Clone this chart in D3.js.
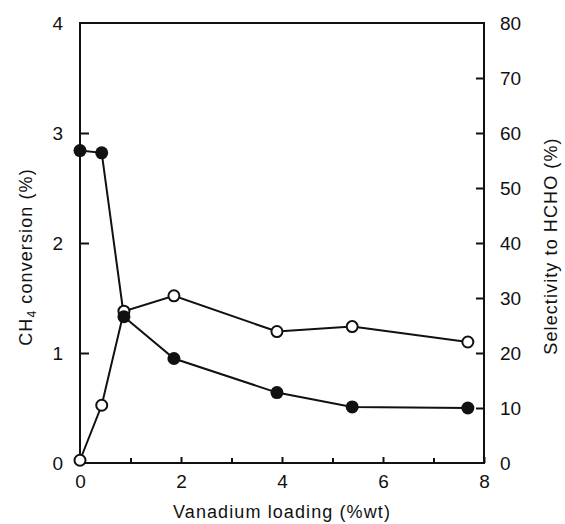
<!DOCTYPE html>
<html>
<head>
<meta charset="utf-8">
<script src="https://cdn.jsdelivr.net/npm/d3@7"></script>
<style>
	body { margin: 0; background: #fff; }
	svg text { font-family: "Liberation Sans", Arial, Helvetica, sans-serif; fill: #111; }
</style>
</head>
<body>
<div id="container"></div>
<script>
// Data
const loading = [0, 0.43, 0.87, 1.86, 3.9, 5.39, 7.68];
const conversion = [2.84, 2.82, 1.33, 0.95, 0.64, 0.51, 0.50];
const selectivity = [0.5, 10.5, 27.6, 30.4, 23.9, 24.8, 22.0];

const xTicks = [0, 2, 4, 6, 8];
const xMinor = [1, 3, 5, 7];
const yLeftTicks = [0, 1, 2, 3, 4];
const yRightTicks = [0, 10, 20, 30, 40, 50, 60, 70, 80];

// Chart dimensions
const width = 565;
const height = 524;
const marginTop = 23;
const marginRight = 81;
const marginBottom = 61;
const marginLeft = 80;

const x = d3.scaleLinear()
	.domain([0, 8])
	.range([marginLeft, width - marginRight]);

const yL = d3.scaleLinear()
	.domain([0, 4])
	.range([height - marginBottom, marginTop]);

const yR = d3.scaleLinear()
	.domain([0, 80])
	.range([height - marginBottom, marginTop]);

const svg = d3.select("#container").append("svg")
	.attr("width", width)
	.attr("height", height)
	.style("display", "block");

const styleAxis = function(g, size) {
	g.select(".domain").remove();
	g.selectAll("line").attr("stroke", "#111").attr("stroke-width", 2);
	g.selectAll("text").style("font-size", size + "px");
}

// Bottom axis, ticks inward
svg.append("g")
	.attr("transform", `translate(0,${yL(0)})`)
	.call(d3.axisBottom(x).tickValues(xTicks).tickSize(-6).tickPadding(12).tickFormat(d3.format("d")))
	.call(g => styleAxis(g, 19));

svg.append("g")
	.attr("transform", `translate(0,${yL(0)})`)
	.call(d3.axisBottom(x).tickValues(xMinor).tickSize(-5).tickFormat(""))
	.call(g => styleAxis(g, 19));

// Left axis
svg.append("g")
	.attr("transform", `translate(${x(0)},0)`)
	.call(d3.axisLeft(yL).tickValues(yLeftTicks).tickSize(-9).tickPadding(17).tickFormat(d3.format("d")))
	.call(g => styleAxis(g, 19))
	.call(g => g.selectAll(".tick").filter(d => d == 0 || d == 4).select("line").remove());

// Right axis
svg.append("g")
	.attr("transform", `translate(${x(8)},0)`)
	.call(d3.axisRight(yR).tickValues(yRightTicks).tickSize(-8).tickPadding(16).tickFormat(d3.format("d")))
	.call(g => styleAxis(g, 19))
	.call(g => g.selectAll(".tick").filter(d => d == 0 || d == 80).select("line").remove());

// Frame (left, top, right, bottom)
svg.append("path")
	.attr("fill", "none")
	.attr("stroke", "#111")
	.attr("stroke-width", 2)
	.attr("d", d3.line()([[x(0), yL(0)], [x(0), yL(4)], [x(8), yL(4)], [x(8), yL(0)], [x(0), yL(0)]]));

// Selectivity line (open circles)
svg.append("path")
	.attr("fill", "none")
	.attr("stroke", "#111")
	.attr("stroke-width", 2)
	.attr("d", d3.line()(loading.map((d, i) => [x(d), yR(selectivity[i])])));

// Conversion line (filled circles)
svg.append("path")
	.attr("fill", "none")
	.attr("stroke", "#111")
	.attr("stroke-width", 2)
	.attr("d", d3.line()(loading.map((d, i) => [x(d), yL(conversion[i])])));

svg.selectAll(".open")
	.data(loading)
	.join("circle")
		.attr("class", "open")
		.attr("cx", d => x(d))
		.attr("cy", (d, i) => yR(selectivity[i]))
		.attr("r", 5.5)
		.attr("fill", "#fff")
		.attr("stroke", "#111")
		.attr("stroke-width", 2);

svg.selectAll(".filled")
	.data(loading)
	.join("circle")
		.attr("class", "filled")
		.attr("cx", d => x(d))
		.attr("cy", (d, i) => yL(conversion[i]))
		.attr("r", 6.5)
		.attr("fill", "#111");

// Axis titles
svg.append("text")
	.attr("x", x(4))
	.attr("y", 518)
	.attr("text-anchor", "middle")
	.style("font-size", "18px")
	.style("letter-spacing", "1.1px")
	.text("Vanadium loading (%wt)");

const leftTitle = svg.append("text")
	.attr("transform", `translate(32,${(yL(0) + yL(4)) / 2 + 14}) rotate(-90)`)
	.attr("text-anchor", "middle")
	.style("font-size", "18px")
	.style("letter-spacing", "1.1px");
leftTitle.append("tspan").text("CH");
leftTitle.append("tspan").attr("dy", 4).style("font-size", "12px").text("4");
leftTitle.append("tspan").attr("dy", -4).text(" conversion (%)");

svg.append("text")
	.attr("transform", `translate(557,${(yR(0) + yR(80)) / 2 + 3}) rotate(-90)`)
	.attr("text-anchor", "middle")
	.style("font-size", "18px")
	.style("letter-spacing", "1.1px")
	.text("Selectivity to HCHO (%)");
</script>
</body>
</html>
